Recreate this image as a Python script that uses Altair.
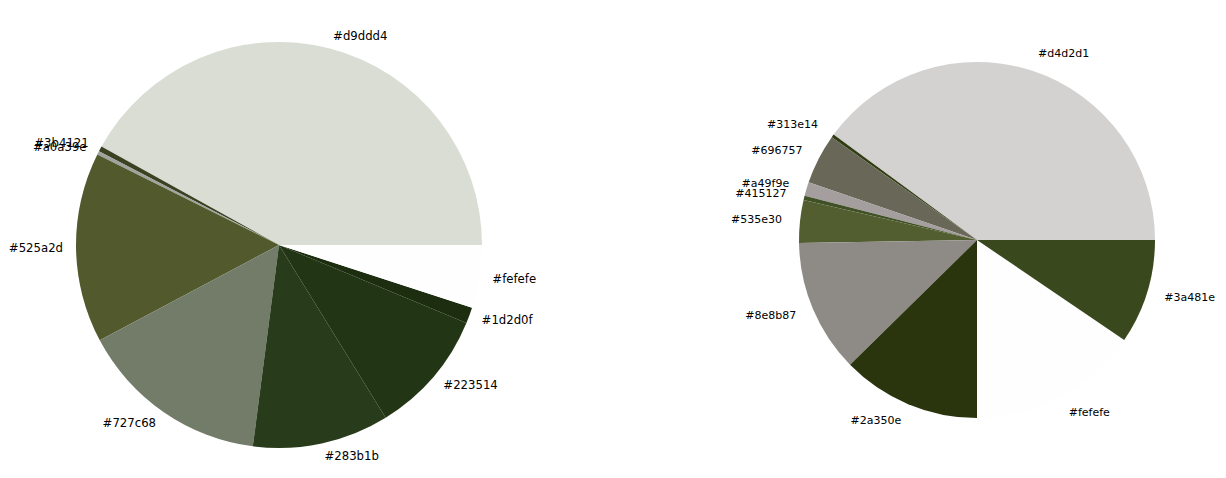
import math
import altair as alt
import pandas as pd

# Left pie (colour names are also the labels)
left_labels = ["#d9ddd4", "#3b4121", "#a0a39e", "#525a2d", "#727c68",
               "#283b1b", "#223514", "#1d2d0f", "#fefefe"]
left_values = [151.0, 1.5, 1.0, 54.5, 54.6, 39.1, 35.7, 4.6, 18.0]

# Right pie
right_labels = ["#d4d2d1", "#313e14", "#696757", "#a49f9e", "#415127",
                "#535e30", "#8e8b87", "#2a350e", "#fefefe", "#3a481e"]
right_values = [143.7, 1.0, 16.4, 4.5, 1.4, 14.0, 43.5, 45.5, 55.8, 34.2]


def make_df(labels, values):
    total = sum(values)
    rows = []
    cum = 0.0
    for i, (lab, v) in enumerate(zip(labels, values)):
        mid = (cum + v / 2.0) / total * 2 * math.pi  # counter-clockwise from 3 o'clock
        cum += v
        rows.append({"label": lab, "value": v, "order": -i,
                     "side": "right" if math.cos(mid) >= 0 else "left"})
    return pd.DataFrame(rows)


def pie(labels, values, radius, label_radius, font, font_size, width, height, yoff):
    df = make_df(labels, values)
    base = alt.Chart(df).encode(
        theta=alt.Theta("value:Q", stack=True,
                        scale=alt.Scale(range=[math.pi / 2, 5 * math.pi / 2])),
        order=alt.Order("order:Q", sort="ascending"),
    )
    arcs = base.mark_arc(outerRadius=radius, yOffset=yoff).encode(
        color=alt.Color("label:N", scale=None, legend=None)
    )
    txt_right = base.mark_text(radius=label_radius, align="left", baseline="middle",
                               font=font, fontSize=font_size, color="#000000",
                               yOffset=yoff).encode(
        text=alt.condition(alt.datum.side == "right", alt.Text("label:N"), alt.value(""))
    )
    txt_left = base.mark_text(radius=label_radius, align="right", baseline="middle",
                              font=font, fontSize=font_size, color="#000000",
                              yOffset=yoff).encode(
        text=alt.condition(alt.datum.side == "left", alt.Text("label:N"), alt.value(""))
    )
    return alt.layer(arcs, txt_right, txt_left).properties(width=width, height=height)


left = pie(left_labels, left_values, 203, 216, "DejaVu Sans Condensed", 13, 538, 462, 6)
right = pie(right_labels, right_values, 178, 196, "DejaVu Sans", 11, 480, 462, 1)

chart = alt.hconcat(left, right, spacing=183).properties(
    padding=0
).configure_view(stroke=None).configure(background="#ffffff")

chart.save("out.html", embed_options={"renderer": "svg", "actions": False})
